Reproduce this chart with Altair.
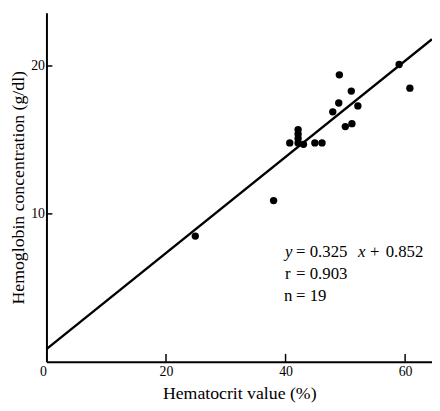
import altair as alt
import pandas as pd

# Data
hematocrit = [24.9, 38.0, 40.7, 42.1, 42.1, 42.1, 42.1, 43.0, 44.9, 46.1,
              47.9, 48.9, 49.0, 50.0, 51.1, 51.0, 52.1, 59.0, 60.8]
hemoglobin = [8.5, 10.9, 14.8, 15.7, 15.4, 15.1, 14.8, 14.7, 14.8, 14.8,
              16.9, 17.5, 19.4, 15.9, 16.1, 18.3, 17.3, 20.1, 18.5]
slope = 0.325
intercept = 0.852
x_ticks = [0, 20, 40, 60]
y_ticks = [10, 20]
x_max = 64.5
y_max = 23.6

FONT = "Liberation Serif"

pts = pd.DataFrame({"x": hematocrit, "y": hemoglobin})
fit = pd.DataFrame({"x": [0, x_max], "y": [intercept, intercept + slope * x_max]})
xt = pd.DataFrame({"v": [t for t in x_ticks if t > 0]})
yt = pd.DataFrame({"v": y_ticks})

xs = alt.Scale(domain=[0, x_max], nice=False, zero=False)
ys = alt.Scale(domain=[0, y_max], nice=False, zero=False)

points = alt.Chart(pts).mark_circle(size=56, color="black", opacity=1).encode(
    x=alt.X("x:Q", scale=xs,
            axis=alt.Axis(values=x_ticks, title="Hematocrit value (%)",
                          tickSize=0, labelPadding=3, titlePadding=6,
                          labelAlign={"condition": {"test": "datum.value === 0", "value": "right"},
                                      "value": "center"})),
    y=alt.Y("y:Q", scale=ys,
            axis=alt.Axis(values=y_ticks, title="Hemoglobin concentration (g/dl)",
                          tickSize=0, labelPadding=2, titlePadding=3)),
)

line = alt.Chart(fit).mark_line(color="black", strokeWidth=2.4).encode(
    x=alt.X("x:Q", scale=xs), y=alt.Y("y:Q", scale=ys)
)

xtick_marks = alt.Chart(xt).mark_rule(color="black", strokeWidth=1.5).encode(
    x=alt.X("v:Q", scale=xs), y=alt.value(354), y2=alt.value(346)
)
ytick_marks = alt.Chart(yt).mark_rule(color="black", strokeWidth=1.5).encode(
    y=alt.Y("v:Q", scale=ys), x=alt.value(0), x2=alt.value(6)
)


def label(txt, px, py, italic=False):
    return alt.Chart(pd.DataFrame({"t": [txt]})).mark_text(
        align="left", baseline="alphabetic", font=FONT, fontSize=17,
        fontStyle="italic" if italic else "normal", color="black"
    ).encode(text="t:N", x=alt.value(px), y=alt.value(py))


annot = [
    label("y", 242, 248, True),
    label("=", 253, 248),
    label("0.325", 267, 248),
    label("x", 316, 248, True),
    label("+", 328, 248),
    label("0.852", 344, 248),
    label("r", 242, 270),
    label("=", 253, 270),
    label("0.903", 267, 270),
    label("n", 241, 292),
    label("=", 253, 292),
    label("19", 267, 292),
]

chart = alt.layer(line, points, xtick_marks, ytick_marks, *annot).properties(
    width=391, height=354,
    autosize=alt.AutoSizeParams(type="none"),
    padding={"left": 39, "top": 2, "right": 0, "bottom": 39},
    background="white",
).configure_view(stroke=None).configure_axis(
    domainColor="black", domainWidth=2, grid=False,
    labelFont=FONT, labelFontSize=14, labelColor="black",
    titleFont=FONT, titleFontSize=18, titleFontWeight="normal", titleColor="black",
)

chart.save("out.html", embed_options={"renderer": "svg", "actions": False})
